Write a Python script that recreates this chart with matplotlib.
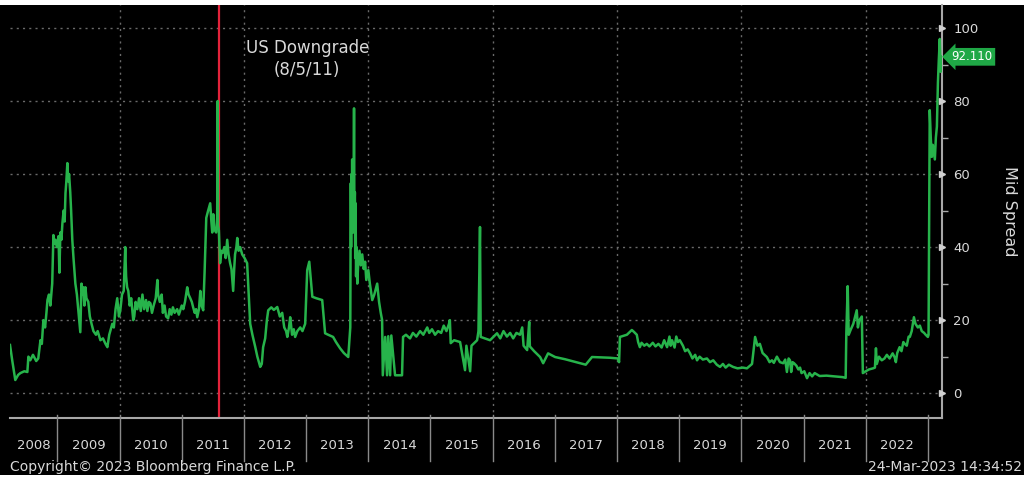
import matplotlib.pyplot as plt
from matplotlib.patches import Rectangle
import pandas as pd

# Mid spread readings (date, value)
readings = [
    ('2008-03-28', 13.2), ('2008-04-10', 9), ('2008-04-28', 3.6), ('2008-05-15', 5),
    ('2008-05-28', 5.5), ('2008-06-20', 6), ('2008-07-08', 5.8), ('2008-07-14', 10),
    ('2008-07-25', 9), ('2008-08-10', 10.5), ('2008-08-29', 8.8), ('2008-09-10', 9.5),
    ('2008-09-23', 14.5), ('2008-10-01', 13.5), ('2008-10-10', 20), ('2008-10-20', 18),
    ('2008-10-28', 22), ('2008-11-03', 25.5), ('2008-11-12', 27), ('2008-11-20', 24),
    ('2008-12-01', 30), ('2008-12-08', 43.3), ('2008-12-14', 41), ('2008-12-20', 42),
    ('2008-12-28', 40), ('2009-01-07', 43), ('2009-01-12', 33), ('2009-01-18', 44),
    ('2009-01-24', 42), ('2009-01-30', 46.6), ('2009-02-06', 50), ('2009-02-12', 47),
    ('2009-02-17', 54.8), ('2009-02-22', 58), ('2009-02-28', 63), ('2009-03-05', 58),
    ('2009-03-10', 60), ('2009-03-17', 55), ('2009-03-22', 50), ('2009-03-29', 42),
    ('2009-04-05', 37), ('2009-04-16', 30), ('2009-04-25', 27), ('2009-05-05', 22),
    ('2009-05-15', 16.7), ('2009-05-22', 30), ('2009-05-28', 27), ('2009-06-02', 29),
    ('2009-06-08', 24), ('2009-06-14', 29), ('2009-06-20', 26), ('2009-07-01', 25),
    ('2009-07-10', 21), ('2009-07-20', 19), ('2009-07-31', 17), ('2009-08-15', 16),
    ('2009-08-25', 17), ('2009-09-10', 14.5), ('2009-09-25', 15), ('2009-10-10', 13.5),
    ('2009-10-21', 12.6), ('2009-11-01', 16), ('2009-11-19', 19), ('2009-11-28', 18),
    ('2009-12-08', 23), ('2009-12-18', 26), ('2009-12-28', 21), ('2010-01-05', 22.7),
    ('2010-01-15', 27), ('2010-01-25', 28), ('2010-02-03', 40), ('2010-02-08', 32),
    ('2010-02-14', 29), ('2010-02-21', 28), ('2010-03-01', 24), ('2010-03-10', 26),
    ('2010-03-22', 20), ('2010-03-28', 21), ('2010-04-05', 25), ('2010-04-15', 23),
    ('2010-04-25', 26), ('2010-05-05', 22.5), ('2010-05-15', 27), ('2010-05-25', 23),
    ('2010-06-05', 25.5), ('2010-06-13', 22.5), ('2010-06-22', 25), ('2010-07-01', 24.6),
    ('2010-07-10', 22), ('2010-07-20', 24), ('2010-08-01', 26), ('2010-08-11', 31),
    ('2010-08-15', 27), ('2010-08-25', 25), ('2010-09-05', 27), ('2010-09-12', 22),
    ('2010-09-22', 24), ('2010-10-01', 21), ('2010-10-13', 20.5), ('2010-10-22', 23),
    ('2010-11-01', 21.5), ('2010-11-10', 23.5), ('2010-11-20', 22), ('2010-12-05', 23),
    ('2010-12-15', 21.5), ('2011-01-01', 24), ('2011-01-10', 23), ('2011-01-20', 25),
    ('2011-02-02', 29), ('2011-02-10', 27), ('2011-02-20', 26), ('2011-03-01', 25),
    ('2011-03-09', 23.5), ('2011-03-18', 22), ('2011-03-26', 23), ('2011-04-02', 20.8),
    ('2011-04-12', 23), ('2011-04-20', 28), ('2011-04-27', 24), ('2011-05-07', 22.7),
    ('2011-05-15', 33), ('2011-05-25', 48), ('2011-06-05', 50), ('2011-06-17', 52),
    ('2011-06-24', 47), ('2011-06-29', 44), ('2011-07-05', 49), ('2011-07-10', 45),
    ('2011-07-22', 44), ('2011-07-28', 48), ('2011-07-31', 80), ('2011-08-02', 46),
    ('2011-08-07', 44.6), ('2011-08-14', 35.6), ('2011-08-22', 39), ('2011-08-29', 38.4),
    ('2011-09-08', 40), ('2011-09-16', 37), ('2011-09-25', 42), ('2011-10-03', 38),
    ('2011-10-12', 35.6), ('2011-10-20', 34), ('2011-10-30', 28), ('2011-11-05', 34),
    ('2011-11-10', 38), ('2011-11-18', 40), ('2011-11-23', 42.5), ('2011-12-01', 39),
    ('2011-12-10', 40), ('2011-12-22', 38), ('2012-01-05', 37), ('2012-01-20', 35.6),
    ('2012-01-28', 28), ('2012-02-07', 19), ('2012-02-20', 16), ('2012-03-08', 12.6),
    ('2012-03-20', 10), ('2012-04-06', 7.2), ('2012-04-15', 8), ('2012-04-23', 12.6),
    ('2012-05-05', 15), ('2012-05-15', 20), ('2012-05-23', 22.7), ('2012-06-10', 23.5),
    ('2012-06-25', 22.8), ('2012-07-15', 23.6), ('2012-07-30', 21), ('2012-08-13', 22),
    ('2012-08-25', 18), ('2012-09-05', 17), ('2012-09-12', 15.4), ('2012-09-22', 18),
    ('2012-09-29', 20.8), ('2012-10-10', 16), ('2012-10-20', 17.5), ('2012-10-28', 15.4),
    ('2012-11-10', 17), ('2012-11-27', 18), ('2012-12-10', 17), ('2012-12-26', 19),
    ('2013-01-07', 33.7), ('2013-01-19', 36), ('2013-02-06', 26.4), ('2013-03-01', 26),
    ('2013-04-05', 25.5), ('2013-04-22', 16.4), ('2013-05-10', 16), ('2013-06-08', 15.4),
    ('2013-06-25', 14), ('2013-07-19', 12.3), ('2013-08-10', 11), ('2013-09-05', 9.9),
    ('2013-09-17', 18), ('2013-09-20', 57.5), ('2013-09-22', 40), ('2013-09-24', 60),
    ('2013-09-26', 45), ('2013-09-28', 64), ('2013-09-30', 48), ('2013-10-02', 62),
    ('2013-10-04', 44), ('2013-10-07', 58), ('2013-10-09', 78), ('2013-10-11', 50),
    ('2013-10-14', 55), ('2013-10-16', 37), ('2013-10-18', 52), ('2013-10-21', 32),
    ('2013-10-24', 40), ('2013-10-28', 30), ('2013-11-02', 35), ('2013-11-10', 39),
    ('2013-11-18', 35), ('2013-11-26', 38), ('2013-12-05', 34), ('2013-12-13', 36),
    ('2013-12-20', 31), ('2014-01-01', 33.7), ('2014-01-10', 30), ('2014-01-24', 25.5),
    ('2014-02-05', 27), ('2014-02-22', 30), ('2014-03-05', 25), ('2014-03-15', 22),
    ('2014-03-23', 20), ('2014-03-27', 4.9), ('2014-04-10', 15.4), ('2014-04-21', 4.9),
    ('2014-04-28', 15.6), ('2014-05-09', 4.9), ('2014-05-16', 15.8), ('2014-06-07', 4.9),
    ('2014-07-18', 4.9), ('2014-07-24', 15.4), ('2014-08-10', 16), ('2014-09-03', 15),
    ('2014-09-20', 16.5), ('2014-10-10', 15.5), ('2014-11-01', 17), ('2014-11-20', 16),
    ('2014-12-13', 18), ('2014-12-25', 16.5), ('2015-01-10', 17.5), ('2015-01-28', 16),
    ('2015-02-15', 17), ('2015-03-05', 16.5), ('2015-03-20', 18.5), ('2015-04-05', 17),
    ('2015-04-20', 19), ('2015-04-25', 20), ('2015-04-30', 13.7), ('2015-05-20', 14.5),
    ('2015-06-24', 14), ('2015-07-23', 6.3), ('2015-07-31', 13), ('2015-08-22', 6),
    ('2015-08-30', 13), ('2015-10-02', 14.5), ('2015-10-10', 17), ('2015-10-19', 45.5),
    ('2015-10-23', 15.4), ('2015-12-17', 14.5), ('2016-01-27', 16.4), ('2016-02-15', 15),
    ('2016-03-05', 17), ('2016-03-25', 15.5), ('2016-04-13', 16.5), ('2016-05-01', 15),
    ('2016-05-20', 16.5), ('2016-06-10', 16), ('2016-06-23', 18), ('2016-07-01', 13),
    ('2016-07-22', 11.8), ('2016-08-03', 19.5), ('2016-08-07', 12.8), ('2016-09-01', 11.5),
    ('2016-10-06', 9.9), ('2016-10-24', 8.2), ('2016-11-22', 10.9), ('2017-01-02', 9.9),
    ('2017-03-01', 9.3), ('2017-05-29', 8.2), ('2017-07-01', 7.8), ('2017-08-07', 9.9),
    ('2017-11-21', 9.7), ('2018-01-07', 9.5), ('2018-01-13', 8.5), ('2018-01-18', 15.4),
    ('2018-02-28', 16), ('2018-03-29', 17.3), ('2018-04-10', 16.8), ('2018-04-27', 16),
    ('2018-05-05', 14), ('2018-05-15', 12.6), ('2018-05-25', 13.8), ('2018-06-10', 13),
    ('2018-06-25', 13.5), ('2018-07-10', 12.8), ('2018-07-30', 13.8), ('2018-08-15', 12.8),
    ('2018-09-01', 13.5), ('2018-09-20', 12.5), ('2018-10-05', 14.5), ('2018-10-22', 12.6),
    ('2018-11-05', 15.5), ('2018-11-12', 13), ('2018-11-20', 14.5), ('2018-12-05', 12.5),
    ('2018-12-15', 15.5), ('2018-12-25', 14), ('2019-01-05', 14.5), ('2019-01-23', 13),
    ('2019-02-05', 11.5), ('2019-02-20', 12), ('2019-03-06', 10.9), ('2019-03-20', 9.5),
    ('2019-04-05', 10.5), ('2019-04-16', 9), ('2019-05-01', 10), ('2019-05-20', 9.2),
    ('2019-06-13', 9.5), ('2019-07-01', 8.5), ('2019-07-20', 9), ('2019-08-10', 7.8),
    ('2019-08-29', 7.2), ('2019-09-15', 8), ('2019-10-01', 7), ('2019-10-20', 7.8),
    ('2019-11-13', 7.2), ('2019-12-10', 6.8), ('2020-01-10', 7), ('2020-02-03', 6.8),
    ('2020-03-04', 8), ('2020-03-22', 15.4), ('2020-04-05', 13), ('2020-04-19', 13.5),
    ('2020-05-05', 11), ('2020-05-30', 9.9), ('2020-06-15', 8.5), ('2020-06-29', 9),
    ('2020-07-10', 8.3), ('2020-07-28', 10), ('2020-08-15', 8.5), ('2020-09-03', 8.2),
    ('2020-09-15', 9.2), ('2020-09-25', 5.8), ('2020-10-05', 9.5), ('2020-10-13', 9),
    ('2020-10-20', 5.8), ('2020-10-28', 8.5), ('2020-11-06', 8.2), ('2020-11-20', 7.5),
    ('2020-12-01', 6.5), ('2020-12-11', 7), ('2020-12-20', 5.5), ('2021-01-05', 6),
    ('2021-01-21', 4.1), ('2021-02-05', 5.5), ('2021-02-20', 4.6), ('2021-03-07', 5.5),
    ('2021-04-05', 4.7), ('2021-05-15', 4.8), ('2021-07-01', 4.6), ('2021-08-17', 4.4),
    ('2021-09-05', 4.2), ('2021-09-09', 16.4), ('2021-09-17', 29.3), ('2021-09-23', 16),
    ('2021-10-04', 17.3), ('2021-10-20', 19), ('2021-11-09', 22.7), ('2021-11-16', 18),
    ('2021-11-25', 20), ('2021-12-09', 21), ('2021-12-15', 5.5), ('2022-01-01', 6),
    ('2022-01-20', 6.5), ('2022-02-13', 6.8), ('2022-02-24', 7), ('2022-03-02', 12.3),
    ('2022-03-07', 8), ('2022-03-20', 10), ('2022-04-05', 9), ('2022-04-21', 9.5),
    ('2022-05-05', 10.5), ('2022-05-21', 9.5), ('2022-06-08', 10.9), ('2022-06-20', 9.8),
    ('2022-06-27', 8.5), ('2022-07-05', 11), ('2022-07-19', 12.6), ('2022-07-30', 11.5),
    ('2022-08-10', 14), ('2022-08-18', 13.5), ('2022-08-30', 13), ('2022-09-10', 15.5),
    ('2022-09-17', 15.4), ('2022-09-28', 17), ('2022-10-11', 20.8), ('2022-10-20', 19),
    ('2022-11-03', 18), ('2022-11-15', 18.5), ('2022-11-26', 17), ('2022-12-10', 16.5),
    ('2022-12-19', 16), ('2023-01-01', 15.4), ('2023-01-05', 16), ('2023-01-09', 50),
    ('2023-01-12', 77.5), ('2023-01-18', 70), ('2023-01-24', 64.7), ('2023-01-30', 68),
    ('2023-02-05', 66), ('2023-02-11', 64), ('2023-02-17', 70), ('2023-02-23', 73),
    ('2023-03-01', 85), ('2023-03-06', 91), ('2023-03-12', 97), ('2023-03-17', 88),
    ('2023-03-24', 92.11),
]
dates = [d for d, _ in readings]
values = [v for _, v in readings]

years = list(range(2008, 2023))
y_ticks = [0, 20, 40, 60, 80, 100]
event_date = '2011-08-05'
event_text = 'US Downgrade\n(8/5/11)'
last_value = values[-1]

W, H = 1036, 478
fg = '#d9d9d9'
green = '#27b34b'

fig = plt.figure(figsize=(W / 100, H / 100), dpi=100, facecolor='white')
fig.patches.append(Rectangle((0, 3 / H), 1024 / W, 470 / H, transform=fig.transFigure,
                             facecolor='black', edgecolor='none', zorder=-10))

x0 = pd.Timestamp('2008-03-28')
x1 = pd.Timestamp('2023-03-25')

ax = fig.add_axes([10 / W, 60 / H, 932 / W, 413 / H], facecolor='black')
ax.set_xlim(x0, x1)
ax.set_ylim(-6.8, 106.3)

# grid
for v in y_ticks:
    ax.axhline(v, color='#6a6a6a', lw=1, ls=(0, (1.5, 3)), zorder=1)
for yr in range(2010, 2024, 2):
    ax.axvline(pd.Timestamp(f'{yr}-01-01'), color='#6a6a6a', lw=1, ls=(0, (1.5, 3)), zorder=1)

ax.axvline(pd.Timestamp(event_date), color='#e3233b', lw=1.6, zorder=2)
ax.plot(pd.to_datetime(dates), values, color=green, lw=1.8, zorder=3)
ax.text(pd.Timestamp('2013-01-07'), 91.5, event_text, color=fg, fontsize=12,
        ha='center', va='center', linespacing=1.25)

for s in ['top', 'left']:
    ax.spines[s].set_visible(False)
for s in ['right', 'bottom']:
    ax.spines[s].set_color('#a8a8a8')
    ax.spines[s].set_linewidth(1.5)

ax.set_xticks([])
ax.yaxis.tick_right()
ax.set_yticks(y_ticks)
ax.set_yticklabels([str(v) for v in y_ticks])
ax.set_yticks([10, 30, 50, 70, 90], minor=True)
ax.tick_params(axis='y', which='major', colors=fg, length=0, pad=8, labelsize=9.5)
ax.tick_params(axis='y', which='minor', color='#a8a8a8', length=4, width=1)
ax.plot([1.0] * len(y_ticks), y_ticks, marker='>', ms=5, color='#d0d0d0', ls='none',
        transform=ax.get_yaxis_transform(), clip_on=False, zorder=5)
ax.yaxis.set_label_position('right')
ax.set_ylabel('Mid Spread', rotation=270, color=fg, fontsize=11.5, labelpad=28)

ax.annotate(f'{last_value:.3f}', xy=(1.0, last_value), xycoords=ax.get_yaxis_transform(),
            xytext=(7, 0), textcoords='offset points', ha='left', va='center',
            color='white', fontsize=8.5,
            bbox=dict(boxstyle='larrow,pad=0.2', fc='#1fa846', ec='none'),
            annotation_clip=False)

# year band under the chart
band = fig.add_axes([10 / W, 16 / H, 932 / W, 44 / H], facecolor='none')
band.set_xlim(x0, x1)
band.set_ylim(0, 1)
band.axis('off')
for yr in years[1:] + [2023]:
    band.axvline(pd.Timestamp(f'{yr}-01-01'), ymin=0.03, ymax=1.06, color='#8a8a8a',
                 lw=1, clip_on=False)
for yr in years:
    a = max(pd.Timestamp(f'{yr}-01-01'), x0)
    b = pd.Timestamp(f'{yr + 1}-01-01')
    band.text(a + (b - a) / 2, 0.38, str(yr), color=fg, fontsize=9.5, ha='center', va='center')

fig.text(10 / W, 11 / H, 'Copyright\u00a9 2023 Bloomberg Finance L.P.', color=fg,
         fontsize=10, ha='left', va='center')
fig.text(1022 / W, 11 / H, '24-Mar-2023 14:34:52', color=fg, fontsize=10,
         ha='right', va='center')

fig.savefig('out.png', dpi=100, facecolor='white')
